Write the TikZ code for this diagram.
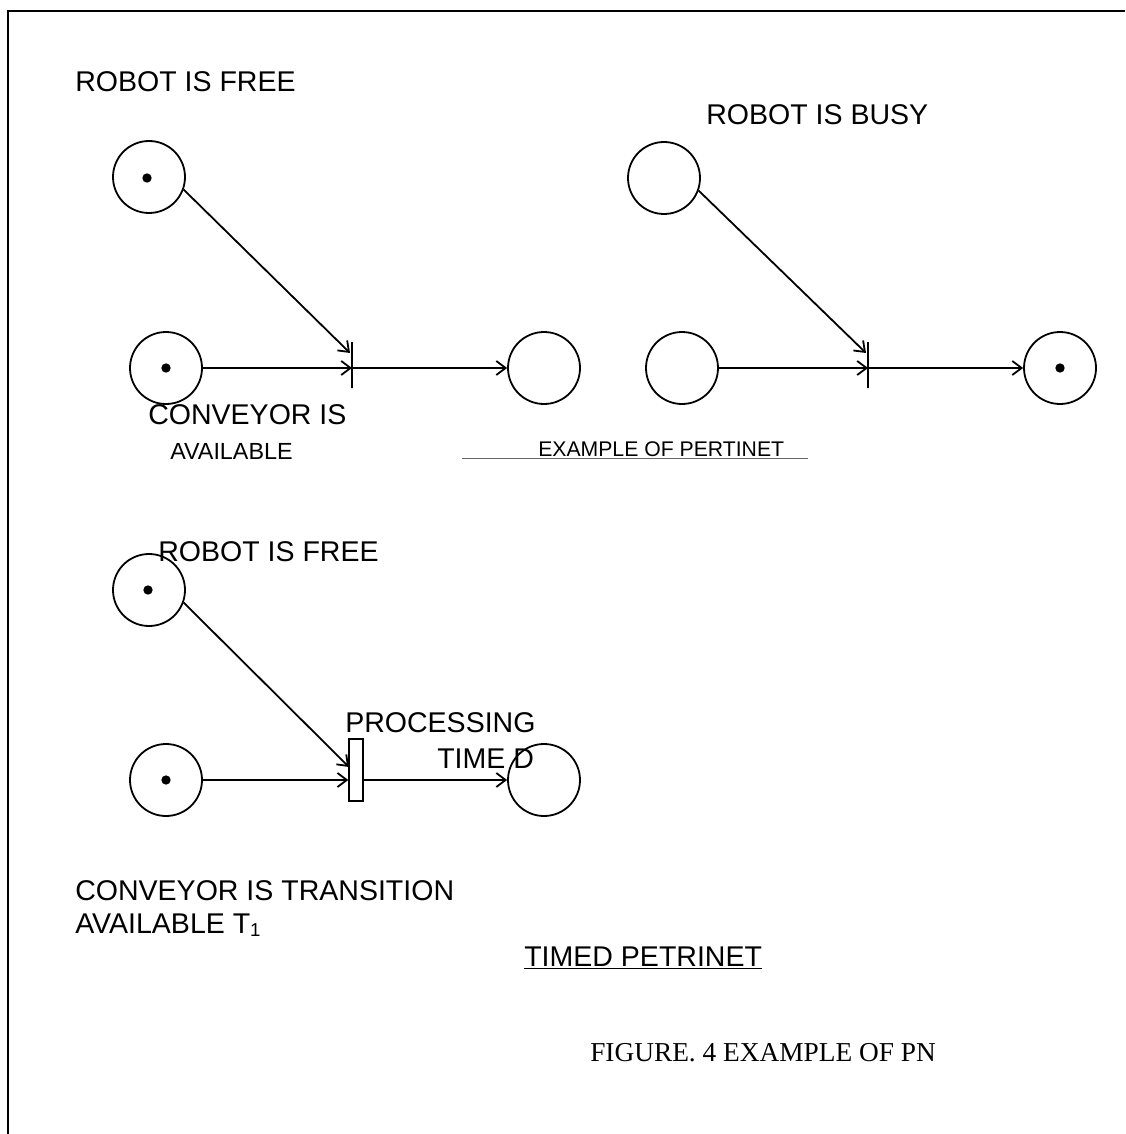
\documentclass[tikz,border=0pt]{standalone}
\usepackage{fontspec}
\setmainfont{Liberation Sans}
\newfontfamily\capfont{Liberation Serif}
\usetikzlibrary{arrows.meta}
\tikzset{
  place/.style={circle,draw,line width=1.35pt,minimum size=54pt,inner sep=0pt},
  bar/.style={draw,line width=1.35pt,minimum width=0pt,minimum height=34.5pt,inner sep=0pt},
  timedbar/.style={draw,line width=1.1pt,minimum width=10.5pt,minimum height=46.5pt,inner sep=0pt},
  arc/.style={line width=1.35pt,-{Straight Barb[length=7pt,width=10.5pt,line width=1.35pt]}},
  lbl/.style={anchor=base west,inner sep=0pt,font=\fontsize{21.4}{25}\selectfont},
  small/.style={anchor=base west,inner sep=0pt,font=\fontsize{17.5}{20}\selectfont},
  smaller/.style={anchor=base west,inner sep=0pt,font=\fontsize{15.9}{18}\selectfont},
  token/.style={fill,circle,inner sep=0pt,minimum size=7pt}
}
\begin{document}
\begin{tikzpicture}[x=0.75pt,y=-0.75pt]
\useasboundingbox (0,0) rectangle (1125,1134);
% frame
\draw[line width=1.8pt] (8,1134) -- (8,11) -- (1125,11);

% ---- Petri net, before firing
\node[place] (p1) at (149,177) {};
\node[token] at (147,178) {};
\node[place] (p2) at (166,368) {};
\node[token] at (166,368) {};
\node[bar] (t1) at (352,365) {};
\node[place] (p3) at (544,368) {};
\coordinate (t1in) at (350,353);
\draw[arc] (p1.-20) -- (t1in);
\draw[arc] (p2) -- (p2 -| t1);
\draw[arc] (p2 -| t1) -- (p3);

% ---- Petri net, after firing
\node[place] (p4) at (664,178) {};
\node[place] (p5) at (682,368) {};
\node[bar] (t2) at (868,365) {};
\node[place] (p6) at (1060,368) {};
\node[token] at (1060,368) {};
\coordinate (t2in) at (866,353);
\draw[arc] (p4.-20) -- (t2in);
\draw[arc] (p5) -- (p5 -| t2);
\draw[arc] (p5 -| t2) -- (p6);

\node[lbl] (l1) at (75,92) {ROBOT IS FREE};
\node[lbl] (l2) at (706,125) {ROBOT IS BUSY};
\node[lbl] (l3) at (148,424) {CONVEYOR IS};
\node[small] (l4) at (170,459) {AVAILABLE};
\node[smaller] (l5) at (538,456) {EXAMPLE OF PERTINET};
\draw[line width=0.6pt,gray!80!black] (462,458) -- (808,458);

% ---- Timed Petri net
\node[place] (p7) at (149,590) {};
\node[token] at (148,590) {};
\node[place] (p8) at (166,780) {};
\node[token] at (166,780) {};
\node[timedbar] (t3) at (356,770) {};
\node[place] (p9) at (544,780) {};
\coordinate (t3in) at (349,767);
\draw[arc] (p7.-20) -- (t3in);
\draw[arc] (p8) -- (p8 -| t3.west);
\draw[arc] (p8 -| t3.east) -- (p9);

\node[lbl] (l6) at (158,561) {ROBOT IS FREE};
\node[lbl] (l7) at (345,732) {PROCESSING};
\node[lbl] (l8) at (437,768) {TIME D};
\node[lbl] (l9) at (75,900) {CONVEYOR IS TRANSITION};
\node[lbl] (l10) at (75,933) {AVAILABLE T\raisebox{-0.25ex}{\fontsize{14}{16}\selectfont 1}};
\node[lbl] (l11) at (524,966) {\underline{TIMED PETRINET}};

\node[anchor=base west,inner sep=0pt,font=\capfont\fontsize{20.5}{24}\selectfont] (cap) at (590,1061) {FIGURE. 4 EXAMPLE OF PN};
\end{tikzpicture}
\end{document}
